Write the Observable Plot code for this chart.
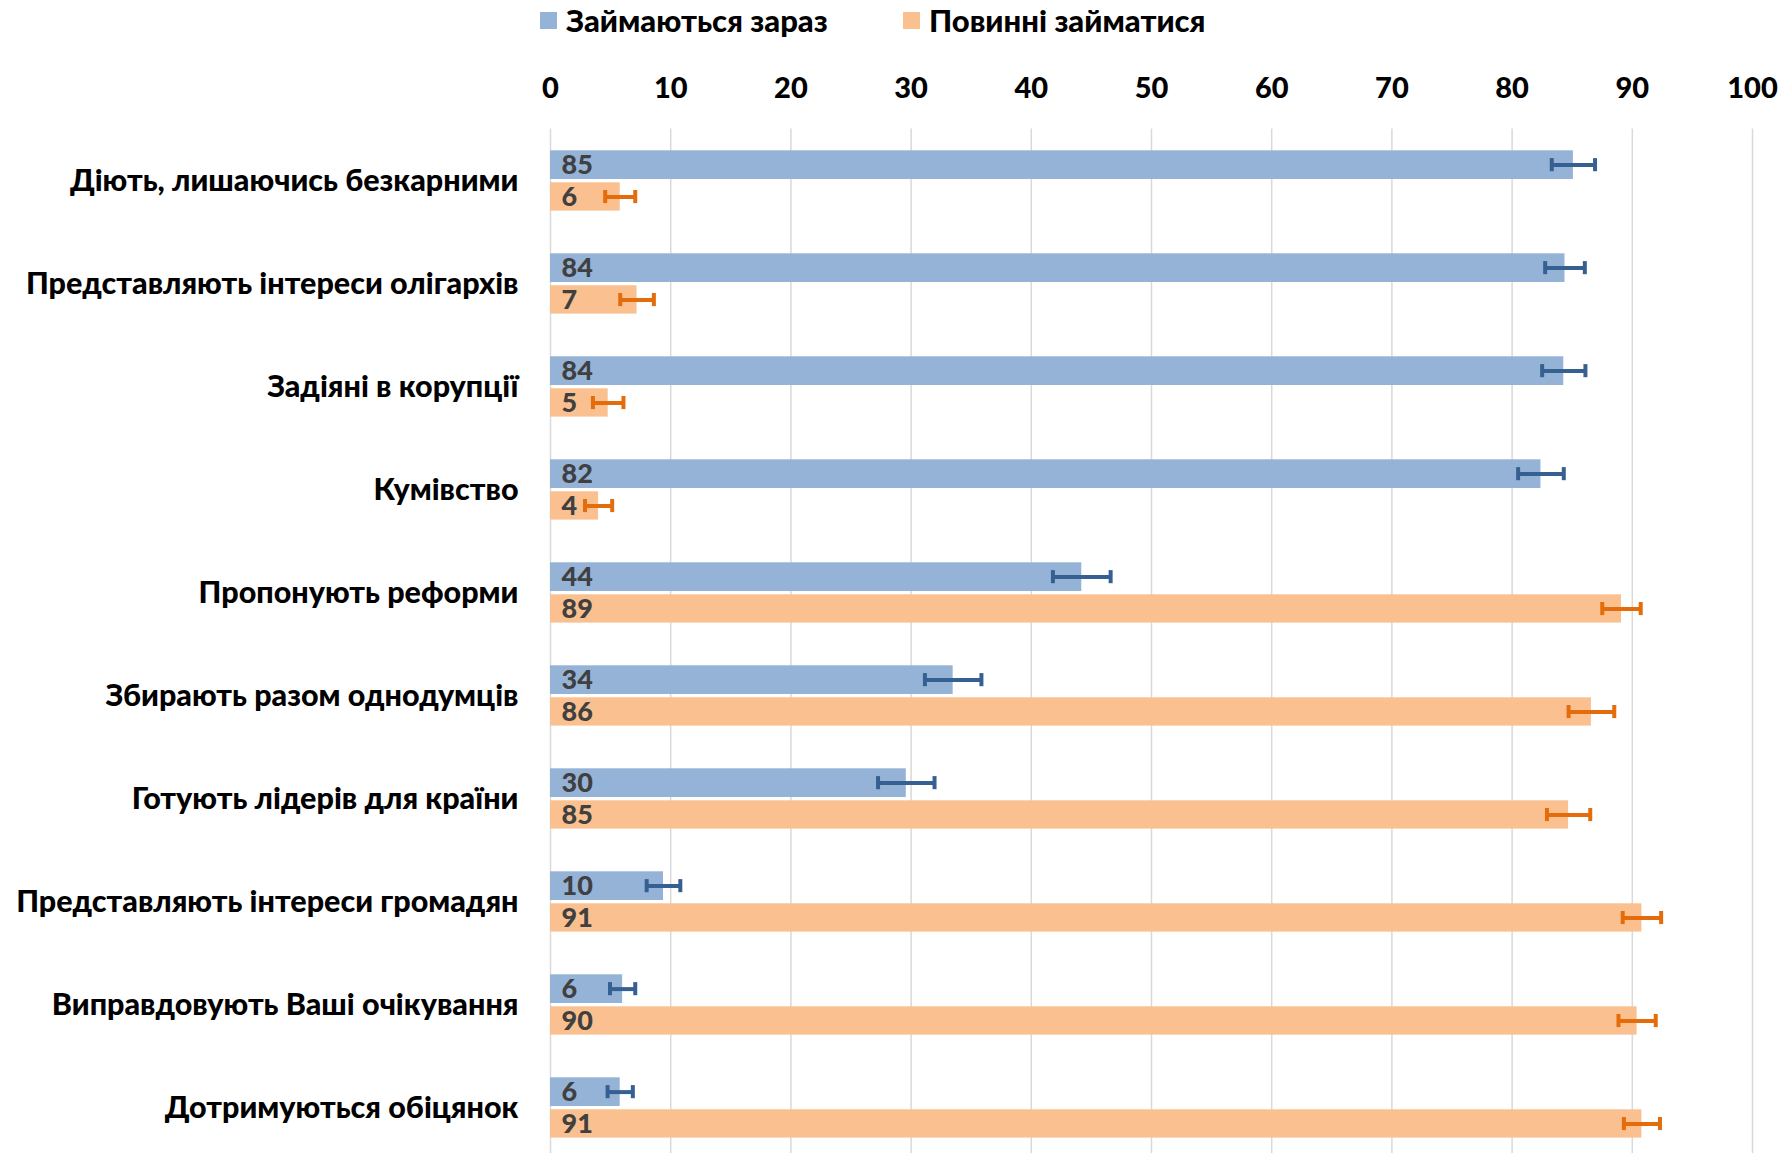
<!DOCTYPE html>
<html><head><meta charset="utf-8">
<script src="https://cdn.jsdelivr.net/npm/d3@7"></script>
<script src="https://cdn.jsdelivr.net/npm/@observablehq/plot@0.6"></script>
<style>
html,body{margin:0;padding:0;background:#fff;overflow:hidden;}
body{font-family:Lato,Roboto,sans-serif;font-weight:900;}
#legend{position:relative;height:40px;}
.item{position:absolute;top:0;height:40px;display:flex;align-items:center;font-size:31px;color:#000;white-space:nowrap;}
.sw{display:inline-block;width:17px;height:17px;margin-right:9px;}
</style></head><body>
<div id="legend"></div><div id="chart"></div>
<script>
const categories = [
  "Діють, лишаючись безкарними",
  "Представляють інтереси олігархів",
  "Задіяні в корупції",
  "Кумівство",
  "Пропонують реформи",
  "Збирають разом однодумців",
  "Готують лідерів для країни",
  "Представляють інтереси громадян",
  "Виправдовують Ваші очікування",
  "Дотримуються обіцянок"
];
const seriesNames = ["Займаються зараз", "Повинні займатися"];
const seriesColors = ["#95b3d7", "#fac090"];
const errorColors = ["#376092", "#e46c0a"];
const labelsNow = [85, 84, 84, 82, 44, 34, 30, 10, 6, 6];
const valuesNow = [85.1, 84.4, 84.3, 82.4, 44.2, 33.5, 29.6, 9.4, 6.0, 5.8];
const errNow = [1.8, 1.65, 1.8, 1.9, 2.4, 2.35, 2.35, 1.4, 1.05, 1.05];
const labelsShould = [6, 7, 5, 4, 89, 86, 85, 91, 90, 91];
const valuesShould = [5.8, 7.2, 4.8, 4.0, 89.1, 86.6, 84.7, 90.8, 90.4, 90.8];
const errShould = [1.25, 1.4, 1.27, 1.13, 1.6, 1.9, 1.8, 1.6, 1.55, 1.5];
const xTicks = [0, 10, 20, 30, 40, 50, 60, 70, 80, 90, 100];

// legend
const legend = document.getElementById("legend");
const legendLeft = [540, 903];
seriesNames.forEach((s, i) => {
  const it = document.createElement("div");
  it.className = "item";
  it.style.left = legendLeft[i] + "px";
  it.innerHTML = `<span class="sw" style="background:${seriesColors[i]}"></span>${s}`;
  legend.appendChild(it);
});

const now = categories.map((c, i) => ({cat: c, value: valuesNow[i], label: labelsNow[i], err: errNow[i]}));
const should = categories.map((c, i) => ({cat: c, value: valuesShould[i], label: labelsShould[i], err: errShould[i]}));

const font = "Lato,Roboto,sans-serif";

const chart = Plot.plot({
  width: 1786,
  height: 1113,
  marginLeft: 550,
  marginRight: 34,
  marginTop: 88.5,
  marginBottom: -5.5,
  style: {fontFamily: font, fontSize: "30.5px", fontWeight: 900, color: "#000", background: "#fff", overflow: "hidden"},
  x: {domain: [0, 100], axis: "top", ticks: xTicks, tickSize: 0, tickPadding: 31, label: null},
  y: {domain: categories, padding: 0, tickSize: 0, tickPadding: 32, label: null},
  marks: [
    Plot.ruleX(xTicks, {stroke: "#d9d9d9", strokeWidth: 1.5}),
    Plot.barX(now, {x: "value", y: "cat", fill: seriesColors[0], insetTop: 21.3, insetBottom: 53}),
    Plot.barX(should, {x: "value", y: "cat", fill: seriesColors[1], insetTop: 53.3, insetBottom: 21.4}),
    Plot.ruleY(now, {y: "cat", x1: d => d.value - d.err, x2: d => d.value + d.err, dy: -15.9, stroke: errorColors[0], strokeWidth: 4}),
    Plot.tickX(now, {y: "cat", x: d => d.value - d.err, insetTop: 29.1, insetBottom: 60.8, stroke: errorColors[0], strokeWidth: 4}),
    Plot.tickX(now, {y: "cat", x: d => d.value + d.err, insetTop: 29.1, insetBottom: 60.8, stroke: errorColors[0], strokeWidth: 4}),
    Plot.ruleY(should, {y: "cat", x1: d => d.value - d.err, x2: d => d.value + d.err, dy: 16, stroke: errorColors[1], strokeWidth: 4}),
    Plot.tickX(should, {y: "cat", x: d => d.value - d.err, insetTop: 61, insetBottom: 28.9, stroke: errorColors[1], strokeWidth: 4}),
    Plot.tickX(should, {y: "cat", x: d => d.value + d.err, insetTop: 61, insetBottom: 28.9, stroke: errorColors[1], strokeWidth: 4}),
    Plot.text(now, {x: 0, y: "cat", text: "label", dx: 11, dy: -15.9, textAnchor: "start", fill: "#404040", fontSize: 27, fontWeight: 900}),
    Plot.text(should, {x: 0, y: "cat", text: "label", dx: 11, dy: 16, textAnchor: "start", fill: "#404040", fontSize: 27, fontWeight: 900})
  ]
});
chart.querySelectorAll('[aria-label="x-axis tick label"] text, [aria-label="x-axis"] text').forEach(t => t.setAttribute("font-size", "29"));
document.getElementById("chart").appendChild(chart);
</script>
</body></html>
